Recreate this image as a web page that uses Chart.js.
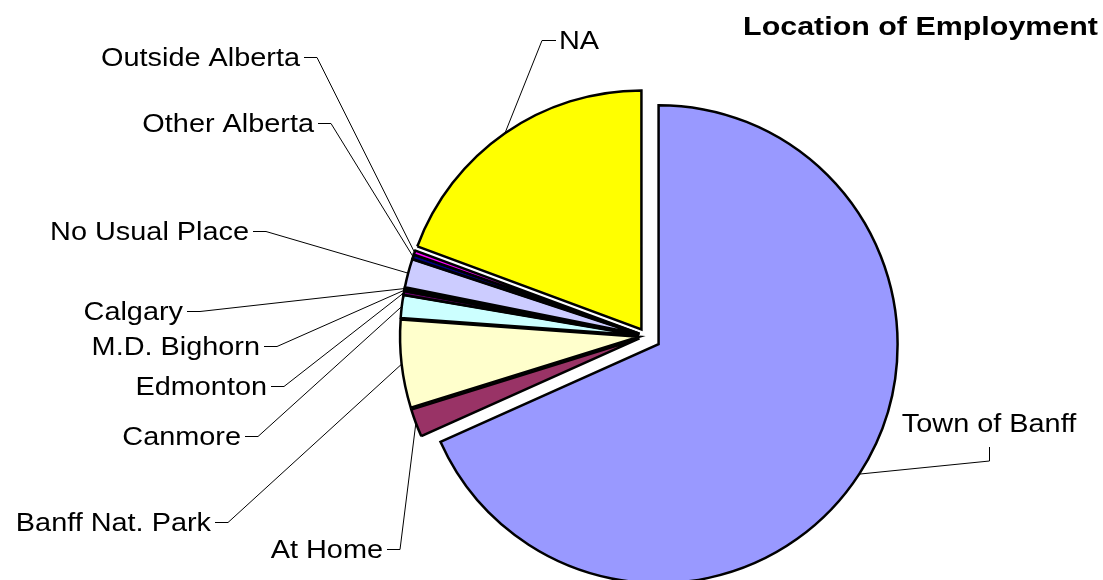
<!DOCTYPE html>
<html>
<head>
<meta charset="utf-8">
<script src="https://cdn.jsdelivr.net/npm/chart.js@4"></script>
<style>
  html, body { margin: 0; padding: 0; background: #fff; }
</style>
</head>
<body>
<canvas id="pie" width="1103" height="580"></canvas>
<script>
// categories, clockwise from 12 o'clock
const locations = ['Town of Banff', 'At Home', 'Banff Nat. Park', 'Canmore', 'Edmonton',
  'M.D. Bighorn', 'Calgary', 'No Usual Place', 'Other Alberta', 'Outside Alberta', 'NA'];
// share of workers (%)
const shares = [68.3, 1.9, 5.95, 1.53, 0.25, 0.1, 0.12, 1.92, 0.3, 0.28, 19.35];

// excel default fill palette
const sliceColors = ['#9999FF', '#993366', '#FFFFCC', '#CCFFFF', '#660066',
  '#FF8080', '#0066CC', '#CCCCFF', '#000080', '#FF00FF', '#FFFF00'];
// how far each slice is pulled out (px)
const explode = [15, 7, 7, 7, 7, 7, 7, 7, 7, 7, 8];

const chartTitle = 'Location of Employment';

// where the text of each label sits, same order as locations
let labelSpots = [
  { side: 'below', x: 989, y: 432 },
  { side: 'right', x: 383, y: 549 },
  { side: 'right', x: 211, y: 522 },
  { side: 'right', x: 241, y: 436 },
  { side: 'right', x: 267, y: 386 },
  { side: 'right', x: 260, y: 346 },
  { side: 'right', x: 183, y: 311 },
  { side: 'right', x: 249, y: 231 },
  { side: 'right', x: 314, y: 123 },
  { side: 'right', x: 300, y: 57 },
  { side: 'left', x: 559, y: 40 }
];

const FONT = '"Liberation Sans", Arial, sans-serif';

const stretchText = (ctx, txt, x, y, align, sx) => {
  ctx.save();
  ctx.translate(x, y);
  ctx.scale(sx, 1);
  ctx.textAlign = align;
  ctx.textBaseline = 'alphabetic';
  ctx.fillText(txt, 0, 0);
  ctx.restore();
}

// move exploded slices out along their middle angle
const explodePlugin = {
  id: 'explode',
  afterDatasetsUpdate(chart) {
    let meta = chart.getDatasetMeta(0);
    meta.data.forEach((arc, i) => {
      let mid = (arc.startAngle + arc.endAngle) / 2;
      arc.x += Math.cos(mid) * explode[i];
      arc.y += Math.sin(mid) * explode[i];
    });
  }
};

const labelPlugin = {
  id: 'leaders',
  afterDraw(chart) {
    let ctx = chart.ctx,
        meta = chart.getDatasetMeta(0);

    ctx.save();
    ctx.fillStyle = '#000';
    ctx.font = 'bold 26px ' + FONT;
    stretchText(ctx, chartTitle, 1098, 35, 'right', 1.17);

    ctx.font = '26px ' + FONT;
    ctx.strokeStyle = '#000';
    ctx.lineWidth = 1;

    meta.data.forEach((arc, i) => {
      let spot = labelSpots[i],
          mid = (arc.startAngle + arc.endAngle) / 2,
          ax = arc.x + Math.cos(mid) * arc.outerRadius,
          ay = arc.y + Math.sin(mid) * arc.outerRadius,
          pts;

      if (spot.side == 'right') {
        stretchText(ctx, locations[i], spot.x, spot.y + 8.5, 'right', 1.11);
        pts = [[spot.x + 4, spot.y + 0.5], [spot.x + 17, spot.y + 0.5], [ax, ay]];
      } else if (spot.side == 'left') {
        stretchText(ctx, locations[i], spot.x, spot.y + 8.5, 'left', 1.11);
        pts = [[spot.x - 3, spot.y + 0.5], [spot.x - 17, spot.y + 0.5], [ax, ay]];
      } else {
        stretchText(ctx, locations[i], spot.x, spot.y, 'center', 1.11);
        pts = [[spot.x + 0.5, spot.y + 15], [spot.x + 0.5, spot.y + 29], [ax, ay]];
      }

      ctx.beginPath();
      ctx.moveTo(pts[0][0], pts[0][1]);
      for (let k = 1; k < pts.length; k++) {
        ctx.lineTo(pts[k][0], pts[k][1]);
      }
      ctx.stroke();
    });
    ctx.restore();
  }
};

const config = {
  type: 'pie',
  data: {
    labels: locations,
    datasets: [{
      data: shares,
      backgroundColor: sliceColors,
      borderColor: '#000',
      borderWidth: 2.5,
      borderJoinStyle: 'miter'
    }]
  },
  options: {
    responsive: false,
    animation: false,
    events: [],
    radius: 239,
    layout: { padding: { left: 189, right: 0, top: 92, bottom: 0 } },
    plugins: {
      legend: { display: false },
      title: { display: false },
      tooltip: { enabled: false }
    }
  },
  plugins: [explodePlugin, labelPlugin]
};

document.addEventListener('DOMContentLoaded', () => {
  new Chart(document.getElementById('pie').getContext('2d'), config);
});
</script>
</body>
</html>
